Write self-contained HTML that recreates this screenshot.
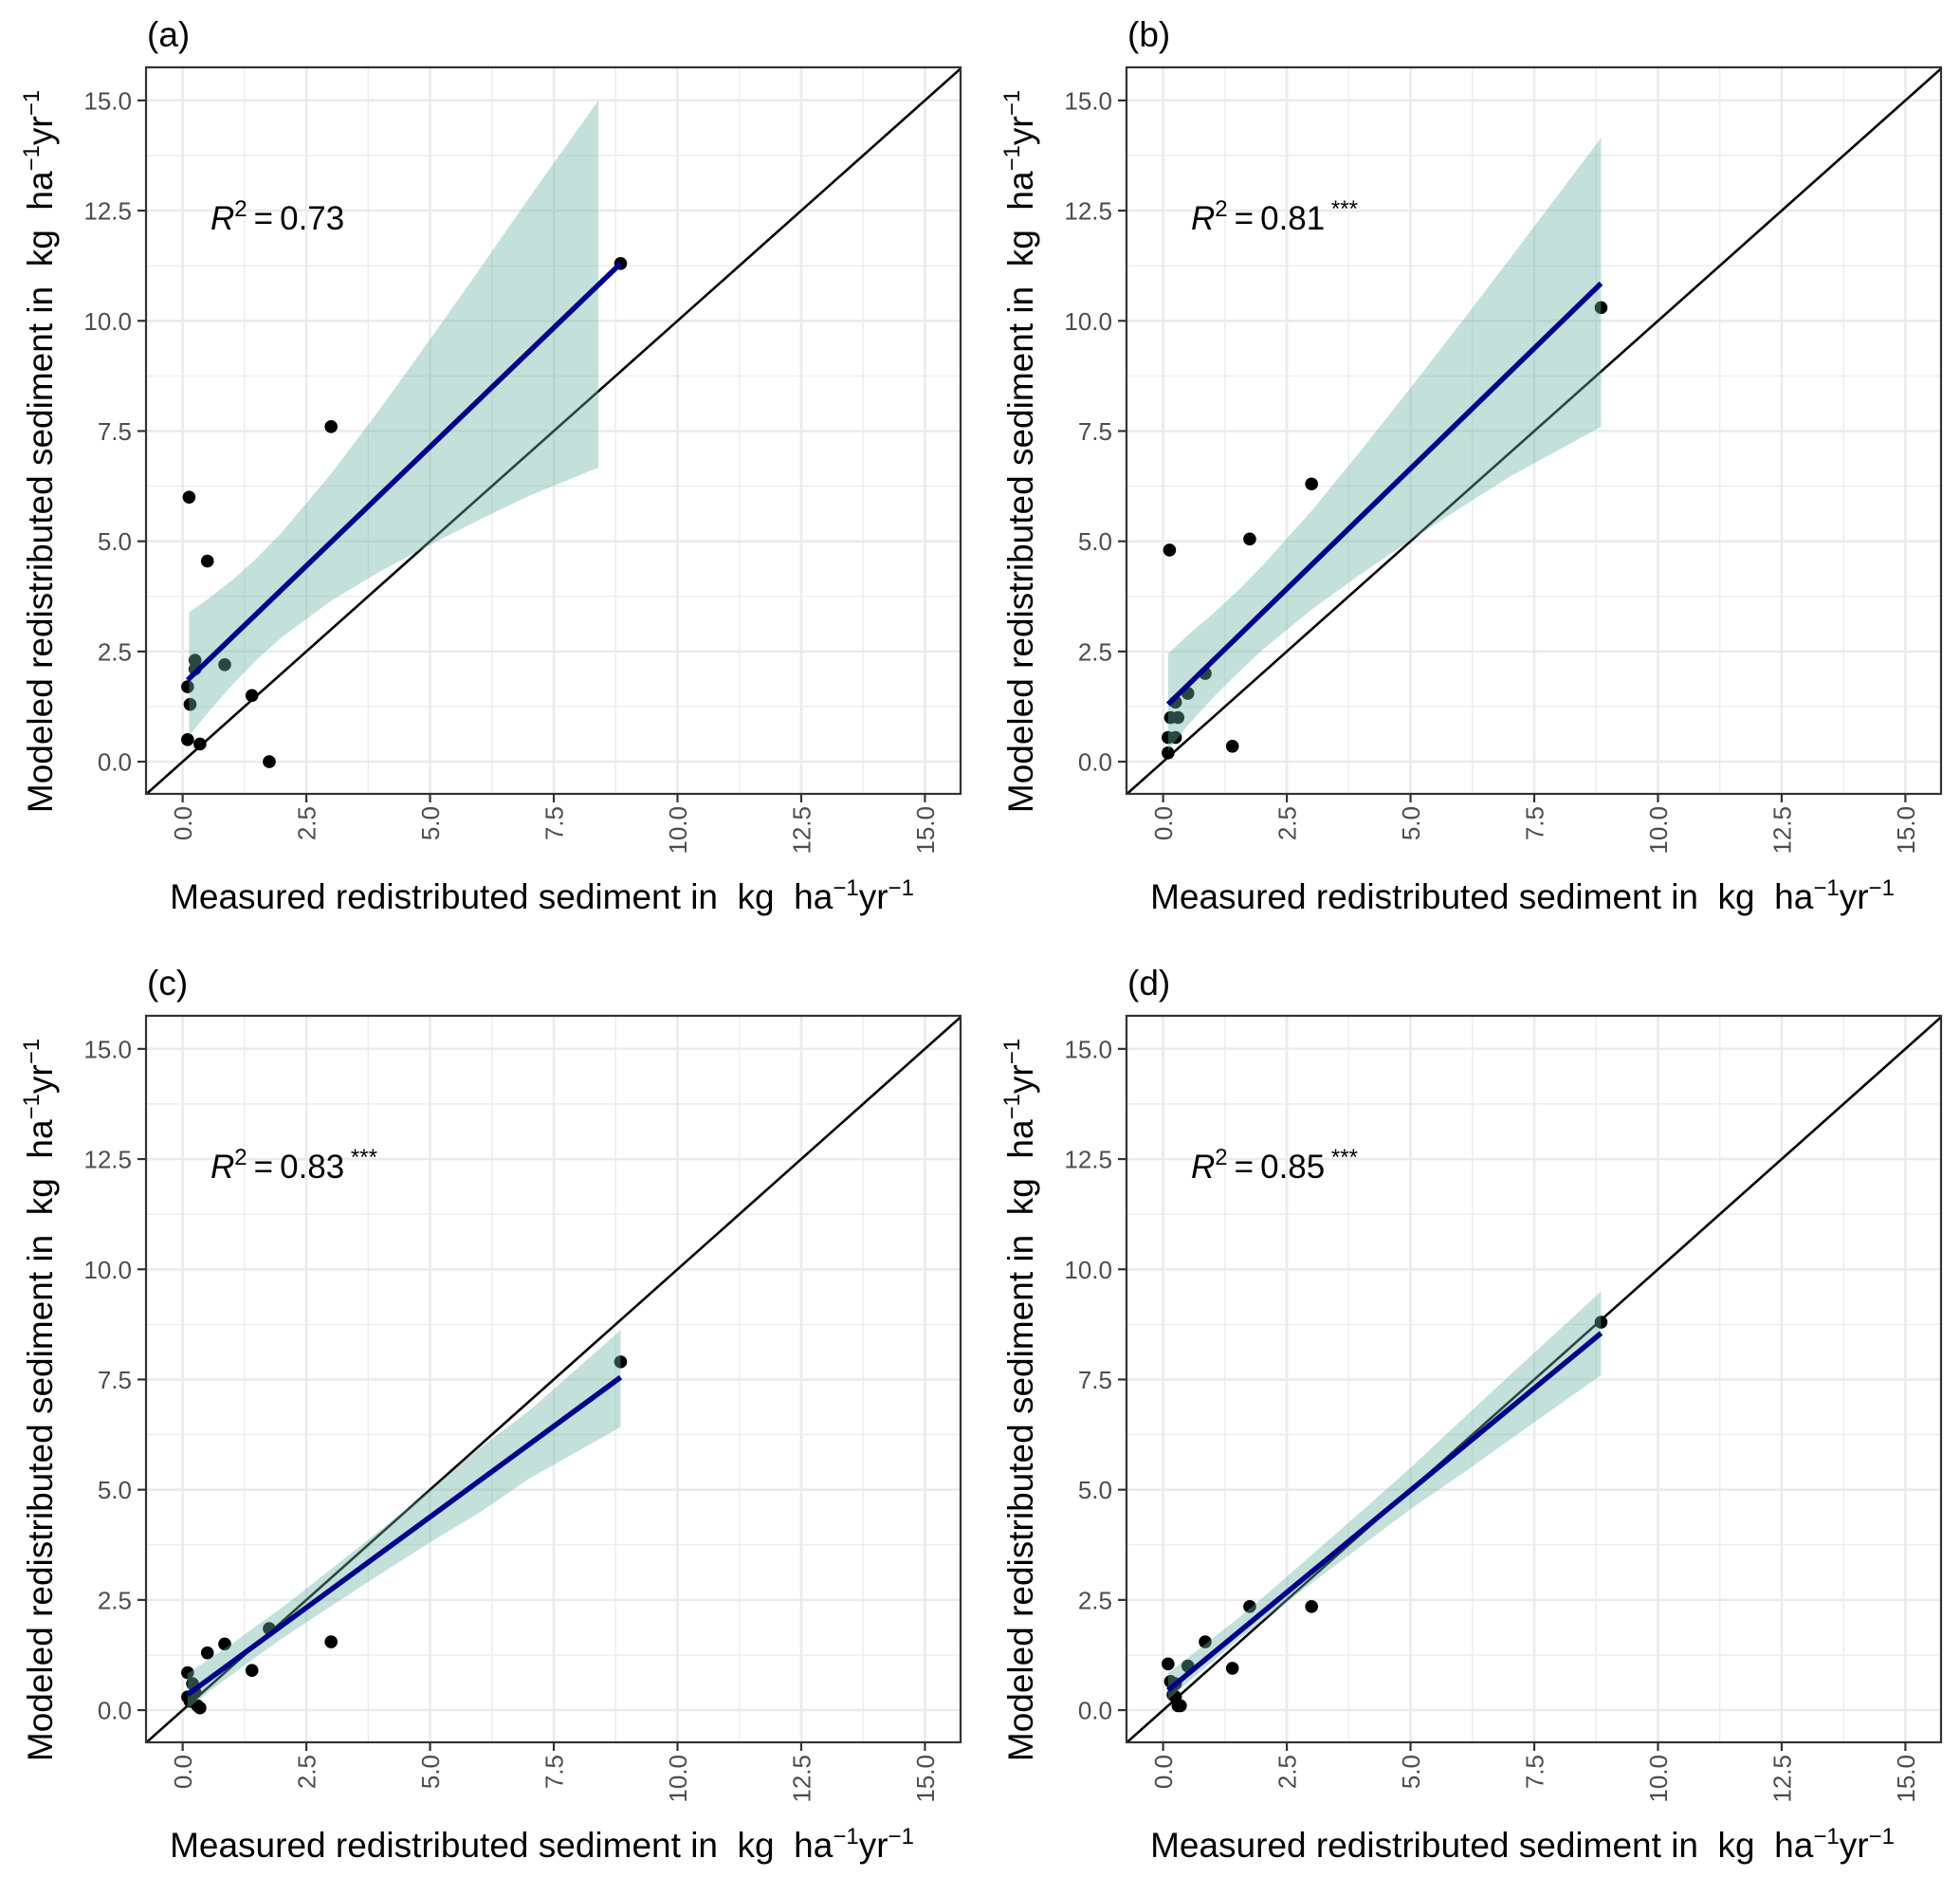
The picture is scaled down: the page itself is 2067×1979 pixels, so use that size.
<!DOCTYPE html>
<html><head><meta charset="utf-8">
<style>
html,body{margin:0;padding:0;background:#fff;}
svg{display:block;font-family:"Liberation Sans",Arial,sans-serif;}
text{white-space:pre;}
</style></head>
<body>
<svg id="fig" width="2067" height="1979" viewBox="0 0 2067 1979" xmlns="http://www.w3.org/2000/svg" xml:space="preserve"></svg>
<script>
// ---- data ----
const panelLabels = ["(a)","(b)","(c)","(d)"];
const r2Values = ["0.73","0.81","0.83","0.85"];
const r2Stars = ["","***","***","***"];
const xTicks = [0,2.5,5,7.5,10,12.5,15];
const yTicks = [0,2.5,5,7.5,10,12.5,15];
const tickLabels = ["0.0","2.5","5.0","7.5","10.0","12.5","15.0"];

const measA = [0.13,0.5,3.0,8.85,0.25,0.25,0.85,0.1,0.15,1.4,0.1,0.35,1.75];
const modA  = [6.0,4.55,7.6,11.3,2.3,2.1,2.2,1.7,1.3,1.5,0.5,0.4,0.0];
const measB = [0.13,1.75,3.0,8.85,0.5,0.85,0.25,0.15,0.3,0.1,0.25,0.1,1.4];
const modB  = [4.8,5.05,6.3,10.3,1.55,2.0,1.35,1.0,1.0,0.55,0.55,0.2,0.35];
const measC = [8.85,1.75,3.0,0.85,0.5,1.4,0.1,0.2,0.1,0.15,0.3,0.35,0.25];
const modC  = [7.9,1.85,1.55,1.5,1.3,0.9,0.85,0.6,0.3,0.2,0.1,0.05,0.4];
const measD = [8.85,1.75,3.0,0.85,0.5,1.4,0.1,0.15,0.25,0.2,0.25,0.35,0.3];
const modD  = [8.8,2.35,2.35,1.55,1.0,0.95,1.05,0.65,0.6,0.35,0.3,0.1,0.1];

const fitX = [[0.1,8.85],[0.1,8.85],[0.1,8.85],[0.1,8.85]];
const fitA = [1.85,11.3];
const fitB = [1.3,10.85];
const fitC = [0.35,7.55];
const fitD = [0.45,8.55];

const ribXA = [0.13,0.5,1,1.5,2,3,4,5,6,7,8.4];
const ribUpA = [3.39,3.68,4.12,4.62,5.2,6.53,8.02,9.58,11.17,12.79,15.0];
const ribLoA = [0.59,1.1,1.74,2.32,2.82,3.65,4.32,4.92,5.49,6.03,6.67];
const ribXB = [0.1,0.5,1,1.5,2,3,4,5,6,7,8.85];
const ribUpB = [2.45,2.87,3.35,3.87,4.44,5.69,7.06,8.48,9.93,11.4,14.15];
const ribLoB = [0.25,0.83,1.44,2.0,2.53,3.45,4.26,5.02,5.75,6.46,7.6];
const ribXC = [0.1,0.5,1,1.5,2,3,4,5,6,7,8.85];
const ribUpC = [0.83,1.13,1.51,1.92,2.32,3.2,4.09,4.99,5.94,6.79,8.62];
const ribLoC = [0.03,0.39,0.81,1.22,1.62,2.36,3.09,3.81,4.48,5.25,6.42];
const ribXD = [0.1,0.5,1,1.5,2,3,4,5,6,7,8.85];
const ribUpD = [0.84,1.19,1.63,2.07,2.54,3.52,4.5,5.5,6.55,7.59,9.5];
const ribLoD = [0.24,0.63,1.11,1.58,2.02,2.88,3.72,4.56,5.33,6.13,7.6];

const panels = [
 {meas:measA,mod:modA,fit:fitA,rx:ribXA,ru:ribUpA,rl:ribLoA,ox:154,oy:71},
 {meas:measB,mod:modB,fit:fitB,rx:ribXB,ru:ribUpB,rl:ribLoB,ox:1188,oy:71},
 {meas:measC,mod:modC,fit:fitC,rx:ribXC,ru:ribUpC,rl:ribLoC,ox:154,oy:1071},
 {meas:measD,mod:modD,fit:fitD,rx:ribXD,ru:ribUpD,rl:ribLoD,ox:1188,oy:1071}
];

const NS="http://www.w3.org/2000/svg";
const svg=document.getElementById('fig');
function mk(tag,attrs,parent){const e=document.createElementNS(NS,tag);for(const k in attrs)e.setAttribute(k,attrs[k]);(parent||svg).appendChild(e);return e;}

const W=859, H=766;
const XMIN=-0.74, XMAX=15.72, YMIN=-0.73, YMAX=15.75;
const unitTitle='  kg  ha<tspan dy="-14" font-size="24">\u22121</tspan><tspan dy="14">yr</tspan><tspan dy="-14" font-size="24">\u22121</tspan>';

panels.forEach((p,i)=>{
  const g=mk('g',{});
  
  
  const sx=v=>p.ox+(v-XMIN)/(XMAX-XMIN)*W;
  const sy=v=>p.oy+H-(v-YMIN)/(YMAX-YMIN)*H;
  const cid='clip'+i;
  const cp=mk('clipPath',{id:cid},g);
  mk('rect',{x:p.ox,y:p.oy,width:W,height:H},cp);
  for(let v=1.25; v<15.5; v+=2.5){
    mk('line',{x1:sx(v),x2:sx(v),y1:p.oy,y2:p.oy+H,stroke:'#ebebeb','stroke-width':1.3},g);
    mk('line',{y1:sy(v),y2:sy(v),x1:p.ox,x2:p.ox+W,stroke:'#ebebeb','stroke-width':1.3},g);
  }
  xTicks.forEach(v=>{const l=mk('line',{x1:sx(v),x2:sx(v),y1:p.oy,y2:p.oy+H,stroke:'#ebebeb','stroke-width':2.6},g);
    });
  yTicks.forEach(v=>{const l=mk('line',{y1:sy(v),y2:sy(v),x1:p.ox,x2:p.ox+W,stroke:'#ebebeb','stroke-width':2.6},g);
    });
  const inner=mk('g',{'clip-path':'url(#'+cid+')'},g);
  const ab=mk('line',{x1:sx(XMIN),y1:sy(XMIN),x2:sx(YMAX),y2:sy(YMAX),stroke:'#000','stroke-width':2.6},inner);
  
  p.meas.forEach((m,j)=>{const c=mk('circle',{cx:sx(m),cy:sy(p.mod[j]),r:6.8,fill:'#000'},inner);
    });
  let d='';
  p.rx.forEach((x,j)=>{d+=(j?'L':'M')+sx(x)+','+sy(p.ru[j]);});
  for(let j=p.rx.length-1;j>=0;j--)d+='L'+sx(p.rx[j])+','+sy(p.rl[j]);
  const rb=mk('path',{d:d+'Z',fill:'#69b3a2','fill-opacity':0.4},inner);
  
  const fl=mk('line',{x1:sx(fitX[i][0]),y1:sy(p.fit[0]),x2:sx(fitX[i][1]),y2:sy(p.fit[1]),stroke:'#00008b','stroke-width':5.5},inner);
  
  mk('rect',{x:p.ox,y:p.oy,width:W,height:H,fill:'none',stroke:'#333','stroke-width':2.2},g);
  xTicks.forEach((v,j)=>{
    mk('line',{x1:sx(v),x2:sx(v),y1:p.oy+H,y2:p.oy+H+9,stroke:'#333','stroke-width':2.2},g);
    const t=mk('text',{transform:'translate('+(sx(v)+9.5)+','+(p.oy+H+13)+') rotate(-90)','text-anchor':'end','font-size':26,fill:'#4d4d4d'},g);
    t.textContent=tickLabels[j];
  });
  yTicks.forEach((v,j)=>{
    mk('line',{x1:p.ox-9,x2:p.ox,y1:sy(v),y2:sy(v),stroke:'#333','stroke-width':2.2},g);
    const t=mk('text',{x:p.ox-15,y:sy(v)+9.5,'text-anchor':'end','font-size':26,fill:'#4d4d4d'},g);
    t.textContent=tickLabels[j];
  });
  const pl=mk('text',{x:p.ox+1,y:p.oy-22,'font-size':37,fill:'#000'},g);
  pl.textContent=panelLabels[i];
  const rt=mk('text',{x:p.ox+68,y:p.oy+171,'font-size':35,fill:'#000'},g);
  
  rt.innerHTML='<tspan font-style="italic">R</tspan><tspan dy="-14" font-size="24">2</tspan><tspan dy="14">\u2009=\u20090</tspan><tspan>.'+r2Values[i].slice(2)+'</tspan>'+(r2Stars[i]?'<tspan dy="-14" font-size="24"> '+r2Stars[i]+'</tspan>':'');
  const xt=mk('text',{x:p.ox+W/2-12,y:p.oy+H+121,'text-anchor':'middle','font-size':37,fill:'#000'},g);
  
  xt.innerHTML='Measured redistributed sediment in'+unitTitle;
  const yt=mk('text',{transform:'translate('+(p.ox-99)+','+(p.oy+H/2+22)+') rotate(-90)','text-anchor':'middle','font-size':37,fill:'#000'},g);
  
  yt.innerHTML='Modeled redistributed sediment in'+unitTitle;
});
</script>
</body></html>
